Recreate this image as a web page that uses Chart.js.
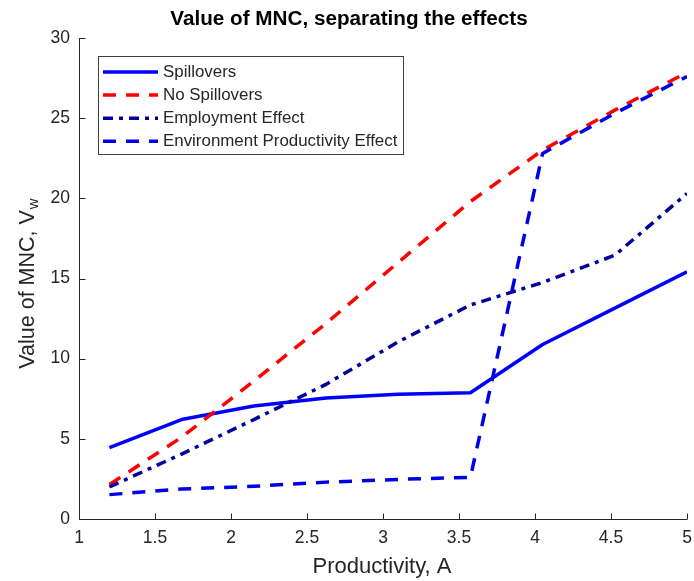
<!DOCTYPE html>
<html>
<head>
<meta charset="utf-8">
<script src="https://cdn.jsdelivr.net/npm/chart.js@4.4.1/dist/chart.umd.min.js"></script>
<style>
  html, body { margin: 0; padding: 0; background: #ffffff; }
  #wrap { width: 694px; height: 581px; }
</style>
</head>
<body>
<div id="wrap"><canvas id="c" width="694" height="581"></canvas></div>
<script>
// Productivity grid (A) and the value of the MNC under each scenario
const productivity = [1.2, 1.675, 2.15, 2.625, 3.1, 3.575, 4.05, 4.525, 5.0];
const spillovers = [4.45, 6.2, 7.05, 7.55, 7.78, 7.87, 10.88, 13.15, 15.42];
const noSpillovers = [2.15, 5.1, 8.6, 12.2, 16.0, 19.8, 23.0, 25.5, 27.85];
const employmentEffect = [2.0, 4.05, 6.2, 8.4, 11.05, 13.35, 14.75, 16.45, 20.3];
const envProductivityEffect = [1.52, 1.87, 2.04, 2.3, 2.47, 2.6, 22.8, 25.3, 27.6];

const xTicks = [1, 1.5, 2, 2.5, 3, 3.5, 4, 4.5, 5];
const yTicks = [0, 5, 10, 15, 20, 25, 30];

const FONT = '"Liberation Sans", Arial, Helvetica, sans-serif';
const INK = '#262626';

const pts = ys => productivity.map((x, i) => ({ x: x, y: ys[i] }));

const datasets = [
  { label: 'Spillovers', data: pts(spillovers), borderColor: '#0000FF', borderDash: [], order: 4 },
  { label: 'No Spillovers', data: pts(noSpillovers), borderColor: '#FF0000', borderDash: [13, 10], order: 3 },
  { label: 'Employment Effect', data: pts(employmentEffect), borderColor: '#00009C', borderDash: [10, 6, 4, 6], order: 2 },
  { label: 'Environment Productivity Effect', data: pts(envProductivityEffect), borderColor: '#0000E6', borderDash: [13, 10], order: 1 }
].map(d => Object.assign({
  borderWidth: 3.5,
  pointRadius: 0,
  tension: 0,
  fill: false,
  borderCapStyle: 'butt',
  borderJoinStyle: 'round'
}, d));

// Axes with inward ticks, title, y label with subscript, and boxed legend
const decorations = {
  id: 'decorations',
  afterDraw(chart) {
    const ctx = chart.ctx;
    const area = chart.chartArea;
    const xs = chart.scales.x, ys = chart.scales.y;
    ctx.save();

    // axis lines
    ctx.strokeStyle = INK;
    ctx.lineWidth = 1;
    ctx.beginPath();
    ctx.moveTo(area.left + 0.5, area.top);
    ctx.lineTo(area.left + 0.5, area.bottom + 0.5);
    ctx.lineTo(area.right, area.bottom + 0.5);
    ctx.stroke();

    // inward tick marks
    ctx.beginPath();
    xTicks.forEach(v => {
      const px = Math.round(xs.getPixelForValue(v)) + 0.5;
      ctx.moveTo(px, area.bottom + 0.5);
      ctx.lineTo(px, area.bottom - 5.5);
    });
    yTicks.forEach(v => {
      const py = Math.round(ys.getPixelForValue(v)) + 0.5;
      ctx.moveTo(area.left + 0.5, py);
      ctx.lineTo(area.left + 6.5, py);
    });
    ctx.stroke();

    // title
    ctx.fillStyle = '#000000';
    ctx.font = 'bold 20.7px ' + FONT;
    ctx.textAlign = 'center';
    ctx.textBaseline = 'middle';
    ctx.fillText('Value of MNC, separating the effects', 349, 19);

    // y axis title with subscript
    ctx.fillStyle = INK;
    const mainFont = '21.5px ' + FONT, subFont = '15px ' + FONT;
    ctx.font = mainFont;
    const main = 'Value of MNC, V';
    const wMain = ctx.measureText(main).width;
    ctx.font = subFont;
    const wSub = ctx.measureText('w').width;
    const total = wMain + wSub;
    ctx.translate(26, 284);
    ctx.rotate(-Math.PI / 2);
    ctx.textAlign = 'left';
    ctx.textBaseline = 'alphabetic';
    ctx.font = mainFont;
    ctx.fillText(main, -total / 2, 7.5);
    ctx.font = subFont;
    ctx.fillText('w', -total / 2 + wMain + 1, 12);
    ctx.setTransform(1, 0, 0, 1, 0, 0);

    // x axis title
    ctx.font = '22px ' + FONT;
    ctx.textAlign = 'center';
    ctx.textBaseline = 'middle';
    ctx.fillText('Productivity, A', 382, 567);

    // legend box
    const box = { x: 98, y: 56, w: 305, h: 98 };
    ctx.fillStyle = '#ffffff';
    ctx.fillRect(box.x, box.y, box.w, box.h);
    ctx.strokeStyle = '#404040';
    ctx.lineWidth = 1;
    ctx.strokeRect(box.x + 0.5, box.y + 0.5, box.w, box.h);
    ctx.font = '16.9px ' + FONT;
    ctx.textAlign = 'left';
    ctx.textBaseline = 'middle';
    chart.data.datasets.forEach((d, i) => {
      const y = 72 + i * 23.1;
      ctx.strokeStyle = d.borderColor;
      ctx.lineWidth = d.borderWidth;
      ctx.lineCap = 'butt';
      ctx.setLineDash(d.borderDash || []);
      ctx.beginPath();
      ctx.moveTo(103, y);
      ctx.lineTo(158, y);
      ctx.stroke();
      ctx.setLineDash([]);
      ctx.fillStyle = INK;
      ctx.fillText(d.label, 163, y);
    });

    ctx.restore();
  }
};

new Chart(document.getElementById('c'), {
  type: 'line',
  data: { datasets: datasets },
  options: {
    responsive: false,
    animation: false,
    events: [],
    layout: { padding: { top: 38, right: 7, left: 0, bottom: 0 } },
    plugins: { legend: { display: false }, title: { display: false }, tooltip: { enabled: false } },
    scales: {
      x: {
        type: 'linear',
        min: 1, max: 5,
        afterBuildTicks: s => { s.ticks = xTicks.map(v => ({ value: v })); },
        afterFit: s => { s.height = 62; s.paddingLeft = 0; s.paddingRight = 0; },
        grid: { display: false, drawTicks: false },
        border: { display: false },
        ticks: { color: INK, font: { family: FONT, size: 17.5 }, padding: 9, maxRotation: 0, autoSkip: false, callback: v => String(v) }
      },
      y: {
        type: 'linear',
        min: 0, max: 30,
        afterBuildTicks: s => { s.ticks = yTicks.map(v => ({ value: v })); },
        afterFit: s => { s.width = 79; s.paddingTop = 0; s.paddingBottom = 0; },
        grid: { display: false, drawTicks: false },
        border: { display: false },
        ticks: { color: INK, font: { family: FONT, size: 17.5 }, padding: 9, callback: v => String(v) }
      }
    }
  },
  plugins: [decorations]
});
</script>
</body>
</html>
